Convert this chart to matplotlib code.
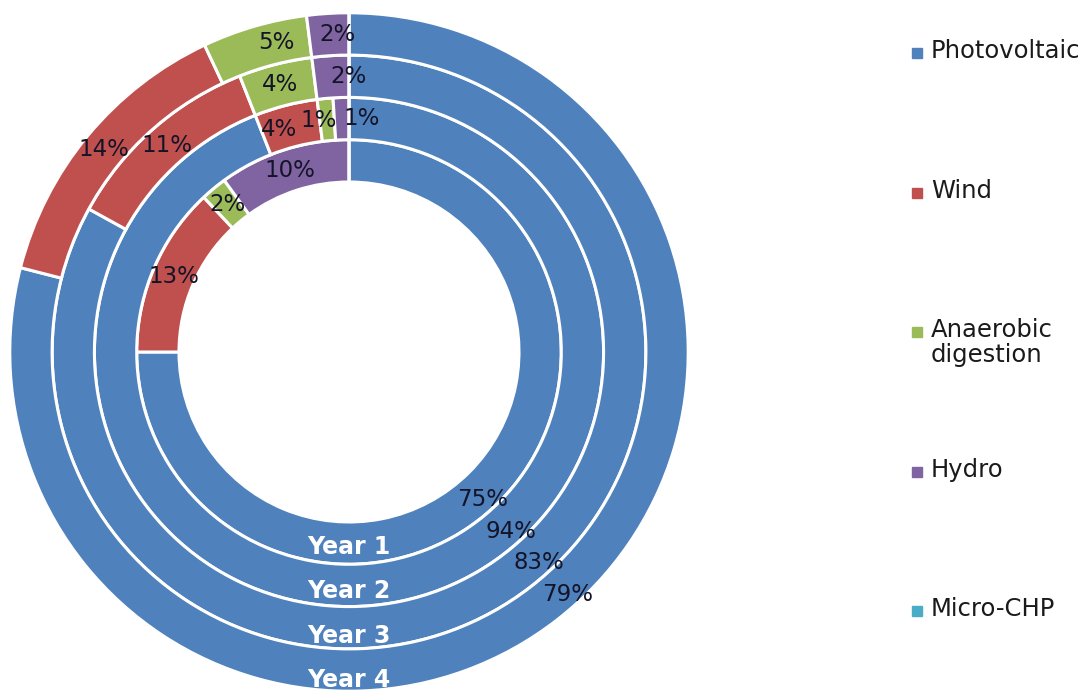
import textwrap
import numpy as np
import matplotlib
matplotlib.use('Agg')
import matplotlib.pyplot as plt

# ── Données ──
categories = ['Photovoltaic', 'Wind', 'Anaerobic digestion', 'Hydro', 'Micro-CHP']
years = ['Year 1', 'Year 2', 'Year 3', 'Year 4']
pv = [75, 94, 83, 79]
wind = [13, 4, 11, 14]
anaerobic = [2, 1, 4, 5]
hydro = [10, 1, 2, 2]
micro_chp = [0, 0, 0, 0]
colors = ['#4F81BD', '#C0504D', '#9BBB59', '#8064A2', '#4BACC6']

series = np.array([pv, wind, anaerobic, hydro, micro_chp])

# ── Mise en page (pixels) ──
CX, CY = 349, 341
R_IN, RING_W = 170, 42.3
PV_ANGLE = 138            # angle (sens horaire depuis le haut) des étiquettes PV
# petits décalages d'étiquettes (degrés, sens horaire) : (anneau, catégorie)
nudges = {(1, 2): -2, (1, 3): 5, (1, 1): -3, (2, 3): 3.5, (3, 2): 3, (3, 3): 1.5}

fig = plt.figure(figsize=(10.84, 6.93), dpi=100)
ax = fig.add_axes([0, 0, 1, 1])

for i, year in enumerate(years):
    vals = series[:, i]
    r_out = R_IN + RING_W * (i + 1)
    r_mid = r_out - RING_W / 2
    ax.pie(vals, radius=r_out, center=(CX, CY), startangle=90, counterclock=False,
           colors=colors, wedgeprops=dict(width=RING_W, edgecolor='white', linewidth=2.2))

    cum = np.concatenate([[0], np.cumsum(vals)])
    for k, v in enumerate(vals):
        if v == 0:
            continue
        if k == 0:
            ang, r = PV_ANGLE, r_mid + 8
        else:
            ang, r = (cum[k] + v / 2) * 3.6 + nudges.get((i, k), 0), r_mid
        t = np.deg2rad(90 - ang)
        ax.text(CX + r * np.cos(t), CY + r * np.sin(t), f"{v}%",
                ha='center', va='center', fontsize=16.5, color='#141428')

    ax.text(CX, CY - r_mid - 4 - 2 * i, year, ha='center', va='center',
            fontsize=17, fontweight='bold', color='white')

# ── Légende manuelle ──
for i, (name, col) in enumerate(zip(categories, colors)):
    y_top = 693 - (39 + 139.5 * i)
    ax.plot(917, y_top - 14, marker='s', markersize=6.5, color=col, linestyle='none')
    ax.text(931, y_top, textwrap.fill(name, 12), ha='left', va='top',
            fontsize=17.5, color='#1a1a1a', linespacing=1.05)

ax.set_xlim(0, 1084)
ax.set_ylim(0, 693)
ax.set_aspect('equal')
ax.axis('off')

plt.savefig('out.png', dpi=100)
